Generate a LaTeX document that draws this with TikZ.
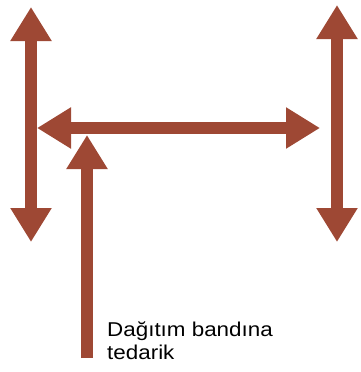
\documentclass[tikz,border=0pt]{standalone}
\usepackage{fontspec}
\newfontfamily\labelfont[FakeStretch=1.12]{Liberation Sans}
\usetikzlibrary{arrows.meta}
\definecolor{rust}{RGB}{158,72,52}

\begin{document}
\begin{tikzpicture}[
  x=1pt, y=-1pt,
  flow/.style={line width=11.5pt, draw=rust,
               -{Triangle[width=39pt, length=34pt]}},
  twoway/.style={flow, {Triangle[width=39pt, length=34pt]}-{Triangle[width=39pt, length=34pt]}},
  note/.style={font=\labelfont\fontsize{20}{23}\selectfont, align=left,
               inner sep=0pt, anchor=north west},
]
\useasboundingbox (0,0) rectangle (360,372);

% Ends of the two upright arrows
\coordinate (LT) at (31, 7);
\coordinate (LB) at (31, 242);
\coordinate (RT) at (337, 5);
\coordinate (RB) at (337, 242);
\draw[twoway] (LT) -- (LB);
\draw[twoway] (RT) -- (RB);

% Cross arrow between them
\coordinate (HL) at (37, 128);
\coordinate (HR) at (320, 128);
\draw[twoway] (HL) -- (HR);

% Supply arrow from below
\coordinate (SB) at (87, 358);
\coordinate (ST) at (87, 135);
\draw[flow] (SB) -- (ST);
\node[note] (supply) at (107, 322) {Dağıtım bandına\\tedarik};

\end{tikzpicture}
\end{document}
